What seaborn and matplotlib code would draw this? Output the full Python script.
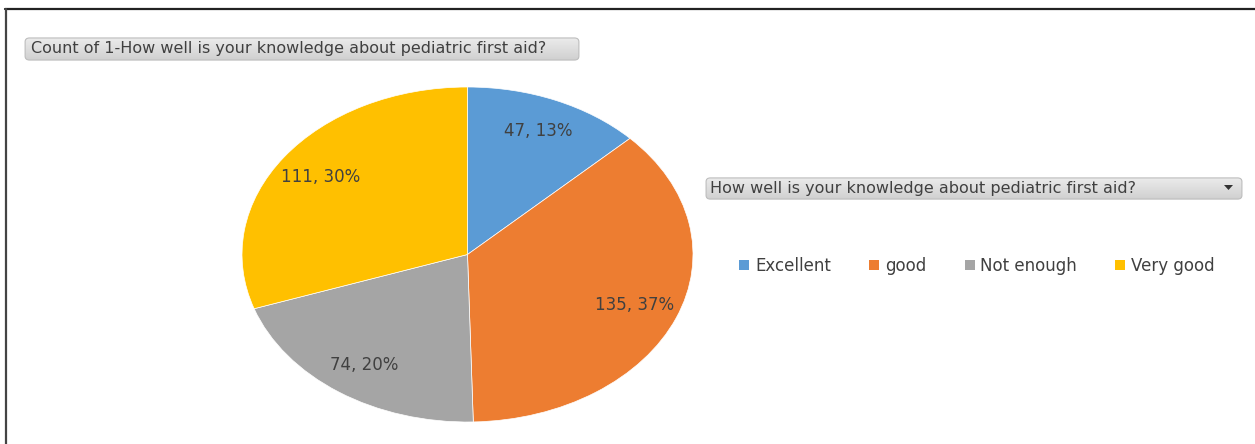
import matplotlib

matplotlib.use("Agg")
import numpy as np
import matplotlib.pyplot as plt
import seaborn as sns
from matplotlib.patches import FancyBboxPatch, Rectangle, Polygon
from matplotlib.lines import Line2D
from matplotlib.colors import LinearSegmentedColormap

# ===================== 数据 =====================
categories = ["Excellent", "good", "Not enough", "Very good"]
counts = [47, 135, 74, 111]
colors = ["#5B9BD5", "#ED7D31", "#A5A5A5", "#FFC000"]
title_text = "Count of 1-How well is your knowledge about pediatric first aid?"
field_text = "How well is your knowledge about pediatric first aid?"

sns.set_theme(style="white")
plt.rcParams['font.family'] = ['DejaVu Sans']

W, H = 1255, 444
fig = plt.figure(figsize=(W / 100, H / 100), dpi=100)
fig.patch.set_facecolor("white")


def fx(px):
    return px / W


def fy(py):
    return 1 - py / H


grad_cmap = LinearSegmentedColormap.from_list("btn", ["#cfcfcf", "#ececec"])


def button(x0, y0, x1, y1):
    # 灰色渐变按钮（Excel 数据透视图字段按钮）
    bax = fig.add_axes([fx(x0), fy(y1), fx(x1) - fx(x0), fy(y0) - fy(y1)])
    bax.set_xlim(0, 1)
    bax.set_ylim(0, 1)
    bax.axis("off")
    img = bax.imshow(np.linspace(0, 1, 50).reshape(-1, 1), cmap=grad_cmap,
                     extent=[0, 1, 0, 1], aspect="auto", origin="lower")
    patch = FancyBboxPatch((0.002, 0.04), 0.996, 0.92,
                           boxstyle="round,pad=0,rounding_size=0.008",
                           facecolor="none", edgecolor="#bdbdbd", linewidth=0.8,
                           mutation_aspect=20)
    bax.add_patch(patch)
    img.set_clip_path(patch)
    return bax


# ===================== 饼图 =====================
ax = fig.add_axes([fx(242), fy(422), fx(693) - fx(242), fy(87) - fy(422)])
total = sum(counts)
wedges, _, autotexts = ax.pie(
    counts,
    colors=colors,
    startangle=90,
    counterclock=False,
    autopct=lambda p: f"{round(p * total / 100)}, {p:.0f}%",
    pctdistance=0.8,
    textprops={"fontsize": 12, "color": "#404040"},
    wedgeprops={"linewidth": 0.5, "edgecolor": "white"},
)
ax.set_aspect("auto")
ax.set_xlim(-1, 1)
ax.set_ylim(-1, 1)
ax.axis("off")

# ===================== 标题按钮 =====================
button(24, 37, 580, 61)
fig.text(fx(31), fy(49), title_text, fontsize=11.5, color="#404040",
         va="center", ha="left")

# ===================== 字段按钮 =====================
button(705, 177, 1243, 200)
fig.text(fx(710), fy(188), field_text, fontsize=11.5, color="#404040",
         va="center", ha="left")
fig.patches.append(Polygon(
    [(fx(1224), fy(185)), (fx(1233), fy(185)), (fx(1228.5), fy(190))],
    closed=True, transform=fig.transFigure, facecolor="#333333", edgecolor="none"))

# ===================== 图例 =====================
handles = [Rectangle((0, 0), 1, 1, facecolor=c, edgecolor="none") for c in colors]
leg = fig.legend(handles, categories, loc="center", ncol=4,
                 bbox_to_anchor=(fx(977), fy(266)), frameon=False,
                 fontsize=12, handlelength=0.6, handleheight=0.6,
                 handletextpad=0.35, columnspacing=2.3)
for t in leg.get_texts():
    t.set_color("#404040")

# ===================== 边框 =====================
fig.add_artist(Line2D([fx(5), 1], [fy(9.5), fy(9.5)], color="#222222", linewidth=1.6,
                      transform=fig.transFigure))
fig.add_artist(Line2D([fx(5.5), fx(5.5)], [0, fy(9.5)], color="#444444", linewidth=1.6,
                      transform=fig.transFigure))

fig.savefig("out.png", dpi=100)
plt.close(fig)
